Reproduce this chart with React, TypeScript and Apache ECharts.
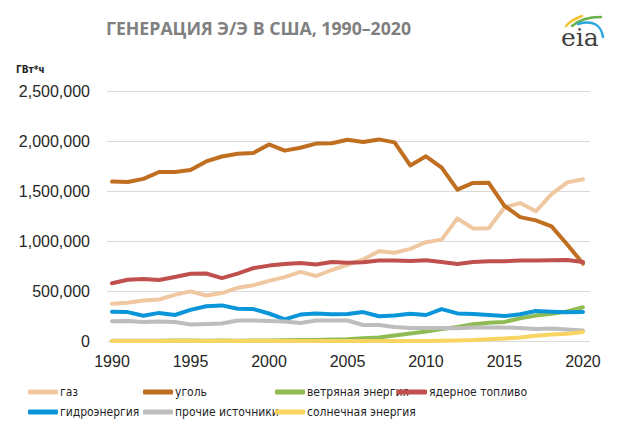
import React, { useEffect, useRef } from "react";
import * as echarts from "echarts";

// Years along the horizontal axis
const years = [
  1990, 1991, 1992, 1993, 1994, 1995, 1996, 1997, 1998, 1999,
  2000, 2001, 2002, 2003, 2004, 2005, 2006, 2007, 2008, 2009,
  2010, 2011, 2012, 2013, 2014, 2015, 2016, 2017, 2018, 2019, 2020,
];
const xTickYears = [1990, 1995, 2000, 2005, 2010, 2015, 2020];
const yTicks = [0, 500000, 1000000, 1500000, 2000000, 2500000];

// Net generation by source, GWh
const gas = [
  373000, 382000, 404000, 415000, 461000, 496000, 455000, 479000, 532000, 557000,
  601000, 639000, 691000, 650000, 710000, 761000, 816000, 897000, 883000, 921000,
  988000, 1014000, 1226000, 1125000, 1127000, 1335000, 1379000, 1297000, 1469000, 1586000, 1617000,
];
const coal = [
  1594000, 1590000, 1621000, 1690000, 1690000, 1709000, 1796000, 1845000, 1873000, 1881000,
  1966000, 1904000, 1933000, 1974000, 1978000, 2013000, 1991000, 2016000, 1986000, 1756000,
  1847000, 1733000, 1514000, 1581000, 1582000, 1352000, 1239000, 1206000, 1146000, 965000, 774000,
];
const wind = [
  3000, 3000, 3000, 3000, 4000, 4000, 3000, 4000, 3000, 5000,
  6000, 7000, 10000, 11000, 14000, 18000, 27000, 34000, 55000, 74000,
  95000, 120000, 141000, 168000, 182000, 191000, 227000, 254000, 273000, 295000, 338000,
];
const nuclear = [
  577000, 613000, 619000, 610000, 640000, 673000, 675000, 629000, 674000, 728000,
  754000, 769000, 780000, 764000, 789000, 782000, 787000, 806000, 806000, 799000,
  807000, 790000, 769000, 789000, 797000, 797000, 805000, 805000, 807000, 809000, 790000,
];
const hydro = [
  293000, 289000, 253000, 281000, 260000, 311000, 347000, 356000, 323000, 319000,
  275000, 217000, 264000, 276000, 268000, 270000, 289000, 247000, 254000, 273000,
  260000, 319000, 276000, 269000, 259000, 249000, 268000, 300000, 293000, 288000, 291000,
];
const other = [
  198000, 200000, 190000, 195000, 190000, 165000, 170000, 175000, 205000, 205000,
  200000, 195000, 180000, 205000, 205000, 205000, 160000, 160000, 140000, 130000,
  130000, 130000, 128000, 135000, 135000, 135000, 130000, 120000, 125000, 115000, 105000,
];
const solar = [
  1000, 1000, 1000, 1000, 1000, 1000, 1000, 1000, 1000, 1000,
  1000, 1000, 1000, 1000, 1000, 1000, 1000, 1000, 1000, 1000,
  1000, 2000, 4000, 9000, 18000, 25000, 36000, 53000, 64000, 72000, 91000,
];

const seriesDefs = [
  { name: "газ", data: gas, color: "#efc8a2" },
  { name: "уголь", data: coal, color: "#c06e1f" },
  { name: "ветряная энергия", data: wind, color: "#8fbb53" },
  { name: "ядерное топливо", data: nuclear, color: "#c0504d" },
  { name: "гидроэнергия", data: hydro, color: "#0b96da" },
  { name: "прочие источники", data: other, color: "#bdbdbd" },
  { name: "солнечная энергия", data: solar, color: "#f8d462" },
];

// Legend slots: two rows, four columns
const legendSlots = [
  { left: 28, top: 386 },
  { left: 143, top: 386 },
  { left: 275, top: 386 },
  { left: 397, top: 386 },
  { left: 28, top: 406 },
  { left: 143, top: 406 },
  { left: 275, top: 406 },
];

const FONT = "'Liberation Sans', Arial, sans-serif";
const NARROW = "'Liberation Sans Narrow', 'DejaVu Sans Condensed', sans-serif";

export default function App() {
  const ref = useRef<HTMLDivElement>(null);

  useEffect(() => {
    const chart = echarts.init(ref.current!, null, { renderer: "svg" });

    const option: any = {
      animation: false,
      backgroundColor: "#ffffff",
      grid: { left: 107, right: 48, top: 91, height: 250 },
      xAxis: {
        type: "value",
        min: 1989.68,
        max: 2020.45,
        axisLine: { show: false },
        axisTick: { show: false },
        splitLine: { show: false },
        axisLabel: {
          customValues: xTickYears,
          formatter: (v: number) => String(v),
          color: "#262626",
          fontSize: 16,
          fontFamily: FONT,
          margin: 12,
        },
      },
      yAxis: {
        type: "value",
        min: 0,
        max: 2500000,
        interval: 500000,
        axisLine: { show: false },
        axisTick: { show: false },
        splitLine: { lineStyle: { color: "#d9d9d9", width: 1 } },
        axisLabel: {
          customValues: yTicks,
          formatter: (v: number) => v.toLocaleString("en-US"),
          color: "#262626",
          fontSize: 16,
          fontFamily: FONT,
          margin: 17,
        },
      },
      legend: seriesDefs.map((s, i) => ({
        data: [s.name],
        left: legendSlots[i].left,
        top: legendSlots[i].top,
        padding: 0,
        icon: "roundRect",
        itemWidth: 30,
        itemHeight: 5,
        itemGap: 0,
        selectedMode: false,
        textStyle: {
          color: "#1f1f1f",
          fontSize: 12,
          fontFamily: NARROW,
          padding: [0, 0, 0, -3],
        },
      })),
      series: seriesDefs.map((s) => ({
        name: s.name,
        type: "line",
        data: years.map((y, i) => [y, s.data[i]]),
        showSymbol: false,
        symbol: "none",
        color: s.color,
        lineStyle: { color: s.color, width: 4, cap: "round", join: "round" },
        itemStyle: { color: s.color },
      })),
      graphic: [
        {
          type: "text",
          left: 106,
          top: 19,
          style: {
            text: "ГЕНЕРАЦИЯ Э/Э В США, 1990–2020",
            fill: "#808080",
            font: "bold 17.7px 'Open Sans', sans-serif",
          },
        },
        {
          type: "text",
          left: 16,
          top: 64,
          style: {
            text: "ГВт*ч",
            fill: "#262626",
            font: "bold 10px " + NARROW,
          },
        },
        // eia logo
        {
          type: "text",
          left: 561,
          top: 25,
          style: {
            text: "eia",
            fill: "#404040",
            font: "25px 'DejaVu Serif', serif",
          },
        },
        {
          type: "bezierCurve",
          shape: { x1: 566, y1: 26, x2: 582, y2: 16, cpx1: 571, cpy1: 20 },
          style: { stroke: "#f4c430", lineWidth: 2.5, fill: "none", lineCap: "round" },
        },
        {
          type: "bezierCurve",
          shape: { x1: 572, y1: 26, x2: 601, y2: 17, cpx1: 582, cpy1: 17 },
          style: { stroke: "#6ab04c", lineWidth: 2.5, fill: "none", lineCap: "round" },
        },
        {
          type: "bezierCurve",
          shape: { x1: 578, y1: 24, x2: 603, y2: 37, cpx1: 600, cpy1: 18 },
          style: { stroke: "#2aa7df", lineWidth: 2.5, fill: "none", lineCap: "round" },
        },
      ],
    };

    chart.setOption(option);
    return () => chart.dispose();
  }, []);

  return (
    <div
      ref={ref}
      style={{ position: "fixed", left: 0, top: 0, width: 638, height: 434, background: "#fff" }}
    />
  );
}
